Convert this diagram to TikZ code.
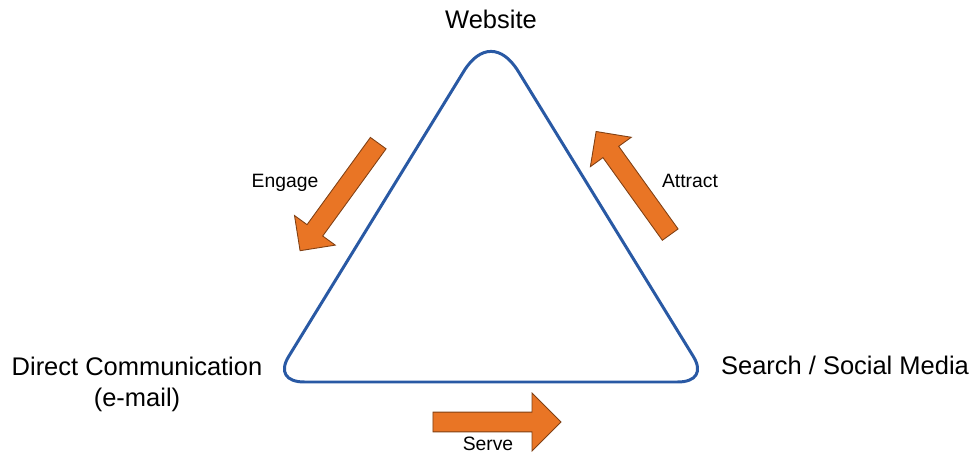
\documentclass[tikz,border=0pt]{standalone}
\usepackage{fontspec}
\setmainfont{Liberation Sans}
\usetikzlibrary{calc,shapes.arrows}

\definecolor{triblue}{RGB}{41,89,164}
\definecolor{flow}{RGB}{233,117,37}

\tikzset{
  corner/.style={font=\fontsize{14.5}{18}\selectfont, align=center, inner sep=0pt},
  flowlabel/.style={font=\fontsize{11}{13}\selectfont, inner sep=0pt},
  flowarrow/.style={single arrow, draw=flow!55!black, fill=flow, line width=0.5pt,
    inner xsep=0pt, inner ysep=0.185cm, single arrow head extend=0.31cm,
    single arrow head indent=0pt}
}

\begin{document}
\begin{tikzpicture}[x=0.02cm,y=0.02cm]
  \useasboundingbox (0,0) rectangle (974,453);

  \coordinate (top) at (491,426);
  \coordinate (left) at (273,71);
  \coordinate (right) at (709,71);

  % the triangle, with a wider rounding at the top corner
  \draw[triblue,line width=1.7pt,line join=round]
    ($(left)!0.072!(right)$) -- ($(right)!0.072!(left)$)
    .. controls ($(right)!0.029!(left)$) and ($(right)!0.029!(top)$) .. ($(right)!0.072!(top)$)
    -- ($(top)!0.125!(right)$)
    .. controls ($(top)!0.05!(right)$) and ($(top)!0.05!(left)$) .. ($(top)!0.125!(left)$)
    -- ($(left)!0.072!(top)$)
    .. controls ($(left)!0.029!(top)$) and ($(left)!0.029!(right)$) .. ($(left)!0.072!(right)$)
    -- cycle;

  \node[corner,anchor=base] (website) at (491,424) {Website};
  \node[corner,anchor=base] (direct) at (137,46) {Direct Communication\\(e-mail)};
  \node[corner,anchor=base] (search) at (845,78) {Search / Social Media};

  % block arrows around the triangle
  \node[flowarrow,minimum height=2.66cm,rotate=234] (engagearrow) at (342,260) {};
  \node[flowarrow,minimum height=2.54cm,rotate=125.7] (attractarrow) at (636,266) {};
  \node[flowarrow,minimum height=2.56cm,inner ysep=0.19cm,single arrow head extend=0.38cm]
    (servearrow) at (492,31) {};

  \node[flowlabel,anchor=base] (engage) at (285,265) {Engage};
  \node[flowlabel,anchor=base] (attract) at (690,265) {Attract};
  \node[flowlabel,anchor=base] (serve) at (488,2) {Serve};
\end{tikzpicture}
\end{document}
